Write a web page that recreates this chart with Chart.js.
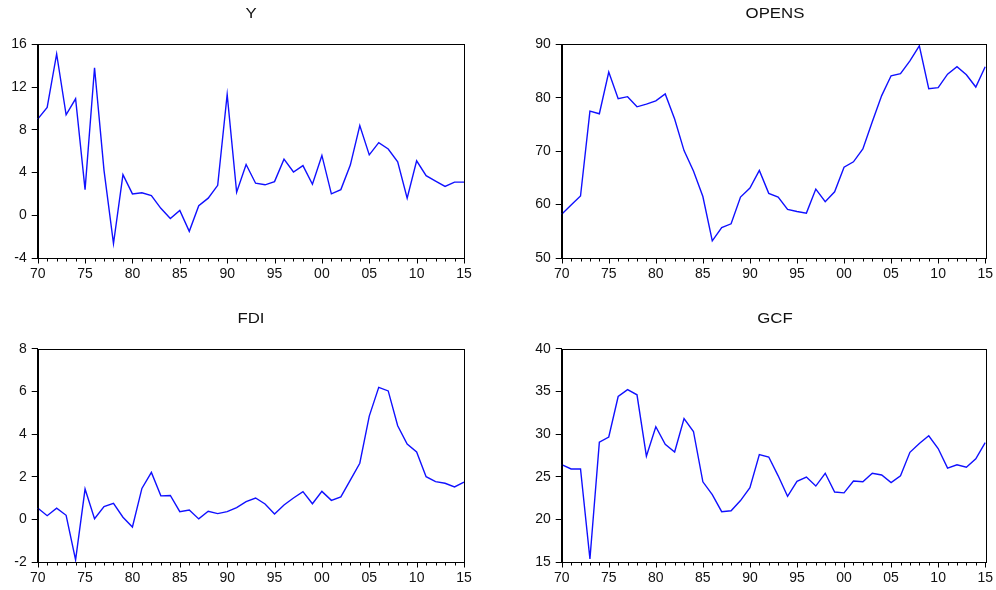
<!DOCTYPE html>
<html>
<head>
<meta charset="utf-8">
<script src="https://cdn.jsdelivr.net/npm/chart.js@4.4.0/dist/chart.umd.min.js"></script>
<style>
  html, body { margin: 0; padding: 0; background: #fff; }
  body { width: 996px; height: 590px; position: relative; overflow: hidden; font-family: "Liberation Sans", Arial, sans-serif; }
  .panel { position: absolute; width: 498px; height: 295px; }
  .title { position: absolute; font-size: 14px; color: #111; transform: translate(-50%, -50%) scaleX(1.2); white-space: nowrap; }
</style>
</head>
<body>
<div class="panel" style="left:0;top:0"><canvas id="cY"></canvas></div>
<div class="panel" style="left:498px;top:0"><canvas id="cO"></canvas></div>
<div class="panel" style="left:0;top:295px"><canvas id="cF"></canvas></div>
<div class="panel" style="left:498px;top:295px"><canvas id="cG"></canvas></div>
<div class="title" style="left:251px;top:13px">Y</div>
<div class="title" style="left:775px;top:13px">OPENS</div>
<div class="title" style="left:251px;top:318px">FDI</div>
<div class="title" style="left:775px;top:318px">GCF</div>
<script>
const years = [1970,1971,1972,1973,1974,1975,1976,1977,1978,1979,1980,1981,1982,1983,1984,1985,1986,1987,1988,1989,1990,1991,1992,1993,1994,1995,1996,1997,1998,1999,2000,2001,2002,2003,2004,2005,2006,2007,2008,2009,2010,2011,2012,2013,2014,2015];

const yValues = [9.0,10.1,15.1,9.4,10.9,2.4,13.8,4.2,-2.65,3.8,2.0,2.1,1.85,0.65,-0.3,0.45,-1.5,0.9,1.6,2.8,11.3,2.15,4.75,3.0,2.85,3.15,5.25,4.05,4.65,2.9,5.6,2.0,2.4,4.7,8.4,5.65,6.8,6.2,5.0,1.6,5.1,3.7,3.2,2.7,3.1,3.1];

const opensValues = [58.2,59.9,61.6,77.5,77.0,84.8,79.8,80.2,78.3,78.8,79.4,80.7,76.0,70.1,66.3,61.5,53.2,55.7,56.4,61.4,63.1,66.4,62.1,61.4,59.1,58.7,58.4,62.9,60.55,62.4,67.0,68.0,70.4,75.5,80.4,84.1,84.5,86.9,89.7,81.7,81.9,84.4,85.8,84.3,82.0,85.8];

const fdiValues = [0.53,0.17,0.52,0.19,-1.9,1.42,0.03,0.6,0.75,0.1,-0.36,1.45,2.2,1.1,1.12,0.36,0.44,0.02,0.38,0.27,0.36,0.55,0.83,1.0,0.72,0.25,0.67,1.0,1.3,0.73,1.31,0.89,1.05,1.84,2.63,4.84,6.19,6.02,4.39,3.53,3.16,2.0,1.77,1.69,1.52,1.75];

const gcfValues = [26.4,25.9,25.9,15.35,29.05,29.65,34.4,35.2,34.6,27.4,30.86,28.8,27.9,31.8,30.3,24.4,22.9,20.9,21.0,22.2,23.7,27.6,27.3,25.1,22.7,24.45,24.95,23.9,25.4,23.2,23.1,24.5,24.4,25.4,25.2,24.3,25.1,27.85,28.9,29.8,28.3,26.0,26.4,26.1,27.1,29.0];

const yTicks = { Y: [-4,16,4], OPENS: [50,90,10], FDI: [-2,8,2], GCF: [15,40,5] };

const framePlugin = {
  id: 'frame',
  afterDraw(chart) {
    const a = chart.chartArea, ctx = chart.ctx;
    const xs = chart.scales.x;
    ctx.save();
    ctx.strokeStyle = '#000';
    ctx.lineWidth = 1;
    ctx.strokeRect(Math.round(a.left) + 0.5, Math.round(a.top) + 0.5, Math.round(a.right - a.left), Math.round(a.bottom - a.top));
    const b = Math.round(a.bottom) + 0.5;
    ctx.beginPath();
    for (let i = 0; i < years.length; i++) {
      const px = Math.round(xs.getPixelForTick(i)) + 0.5;
      const len = years[i] % 5 === 0 ? 5 : 3;
      ctx.moveTo(px, b);
      ctx.lineTo(px, b + len);
    }
    ctx.stroke();
    ctx.restore();
  }
};

function makeChart(id, values, tk, pad) {
  const ctx = document.getElementById(id);
  ctx.width = 498; ctx.height = 295;
  return new Chart(ctx, {
    type: 'line',
    data: {
      labels: years,
      datasets: [{
        data: values,
        borderColor: '#1010ff',
        borderWidth: 1.4,
        pointRadius: 0,
        tension: 0,
        fill: false
      }]
    },
    options: {
      responsive: false,
      animation: false,
      devicePixelRatio: 1,
      layout: { padding: pad },
      plugins: { legend: { display: false }, tooltip: { enabled: false }, title: { display: false } },
      scales: {
        x: {
          type: 'category',
          offset: false,
          grid: { display: true, drawOnChartArea: false, drawTicks: true, tickLength: 5, color: 'rgba(0,0,0,0)', tickColor: 'rgba(0,0,0,0)', offset: false },
          border: { display: true, color: '#000' },
          ticks: {
            autoSkip: false,
            maxRotation: 0,
            minRotation: 0,
            padding: 3,
            color: '#111',
            font: { family: '"Liberation Sans", Arial, sans-serif', size: 14 },
            callback: function(v, i) {
              const yr = years[i];
              return yr % 5 === 0 ? String(yr % 100).padStart(2, '0') : '';
            }
          },
          afterFit(s) { s.height = 22; }
        },
        y: {
          min: tk[0], max: tk[1],
          grid: { display: true, drawOnChartArea: false, drawTicks: true, tickLength: 6, color: '#000' },
          border: { display: true, color: '#000' },
          ticks: {
            stepSize: tk[2],
            padding: 5,
            color: '#111',
            font: { family: '"Liberation Sans", Arial, sans-serif', size: 14 }
          },
          afterFit(s) { s.width = 37.7; }
        }
      }
    },
    plugins: [framePlugin]
  });
}

makeChart('cY', yValues, yTicks.Y, { left: 0, top: 44.3, right: 34, bottom: 15 });
makeChart('cO', opensValues, yTicks.OPENS, { left: 26, top: 44.3, right: 8, bottom: 15 });
makeChart('cF', fdiValues, yTicks.FDI, { left: 0, top: 53.7, right: 34, bottom: 6 });
makeChart('cG', gcfValues, yTicks.GCF, { left: 26, top: 53.7, right: 8, bottom: 6 });
</script>
</body>
</html>
